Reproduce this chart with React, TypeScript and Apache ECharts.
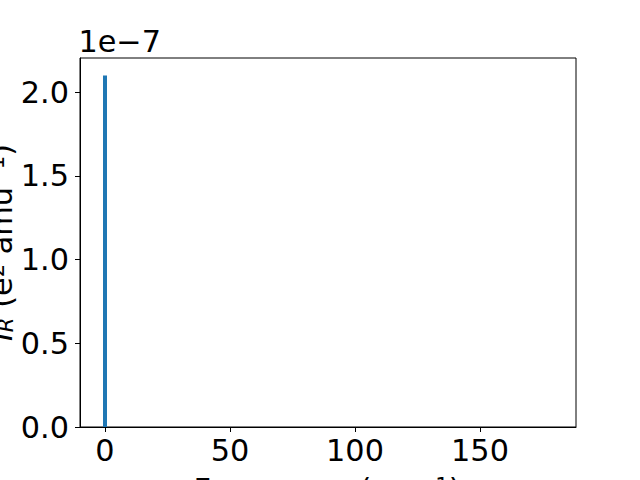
import React, { useEffect, useRef } from "react";
import * as echarts from "echarts";

const frequencies = [0];
const intensities = [2.1e-7];
const xTicks = [0, 50, 100, 150];
const yTicks = [0, 0.5e-7, 1.0e-7, 1.5e-7, 2.0e-7];
const offsetText = "1e−7";

const FONT = "'DejaVu Sans', sans-serif";
const FS = 30.3;
const SFS = 21.2;
const LH = 30;

export default function App() {
  const ref = useRef<HTMLDivElement>(null);
  useEffect(() => {
    if (!ref.current) return;
    const chart = echarts.init(ref.current, undefined, { renderer: "svg" });
    const axisCommon = {
      axisLine: { show: true, onZero: false, lineStyle: { color: "#000", width: 1 } },
      axisTick: { show: true, inside: false, length: 5, lineStyle: { color: "#000", width: 1 } },
      splitLine: { show: false },
    };
    const richStyles = {
      n: { fontFamily: FONT, fontSize: FS, color: "#000", lineHeight: LH },
      it: { fontFamily: FONT, fontSize: FS, fontStyle: "italic", color: "#000", lineHeight: LH },
      sub: { fontFamily: FONT, fontSize: SFS, fontStyle: "italic", color: "#000", verticalAlign: "bottom", lineHeight: 14 },
      sup: { fontFamily: FONT, fontSize: SFS, color: "#000", verticalAlign: "top", lineHeight: 13 },
    };
    chart.setOption({
      animation: false,
      backgroundColor: "#fff",
      textStyle: { fontFamily: FONT, fontSize: FS },
      grid: {
        left: 80,
        top: 58,
        right: 64,
        bottom: 53,
        show: true,
        borderColor: "#000",
        borderWidth: 1,
        backgroundColor: "#fff",
      },
      xAxis: {
        type: "value",
        min: -10,
        max: 188.4,
        ...axisCommon,
        axisTick: { ...axisCommon.axisTick, customValues: xTicks },
        axisLabel: {
          customValues: xTicks,
          fontFamily: FONT,
          fontSize: FS,
          lineHeight: LH,
          color: "#000",
          margin: 8,
          formatter: (v: number) => String(v),
        },
      },
      yAxis: {
        type: "value",
        min: 0,
        max: 2.205e-7,
        ...axisCommon,
        axisTick: { ...axisCommon.axisTick, customValues: yTicks },
        axisLabel: {
          customValues: yTicks,
          fontFamily: FONT,
          fontSize: FS,
          color: "#000",
          margin: 11,
          formatter: (v: number) => (v / 1e-7).toFixed(1),
        },
      },
      series: [
        {
          type: "bar",
          data: frequencies.map((f, i) => [f, intensities[i]]),
          barWidth: 4,
          itemStyle: { color: "#1f77b4" },
        },
      ],
      graphic: [
        {
          type: "text",
          x: 78.4,
          y: 41.7,
          style: {
            text: offsetText,
            fontFamily: FONT,
            fontSize: FS,
            fill: "#000",
            align: "left",
            verticalAlign: "middle",
          },
        },
        {
          type: "text",
          x: 327,
          y: 489.6,
          style: {
            text: "{n|Frequency (cm}{sup|−1}{n|)}",
            rich: richStyles,
            align: "center",
            verticalAlign: "middle",
          },
        },
        {
          type: "text",
          x: 1,
          y: 242.5,
          rotation: Math.PI / 2,
          style: {
            text: "{it|I}{sub|R}{n| (e}{sup|2}{n| amu}{sup|−1}{n|)}",
            rich: richStyles,
            align: "center",
            verticalAlign: "middle",
          },
        },
      ],
    });
    return () => chart.dispose();
  }, []);
  return <div ref={ref} style={{ width: 640, height: 480, position: "absolute", left: 0, top: 0 }} />;
}
